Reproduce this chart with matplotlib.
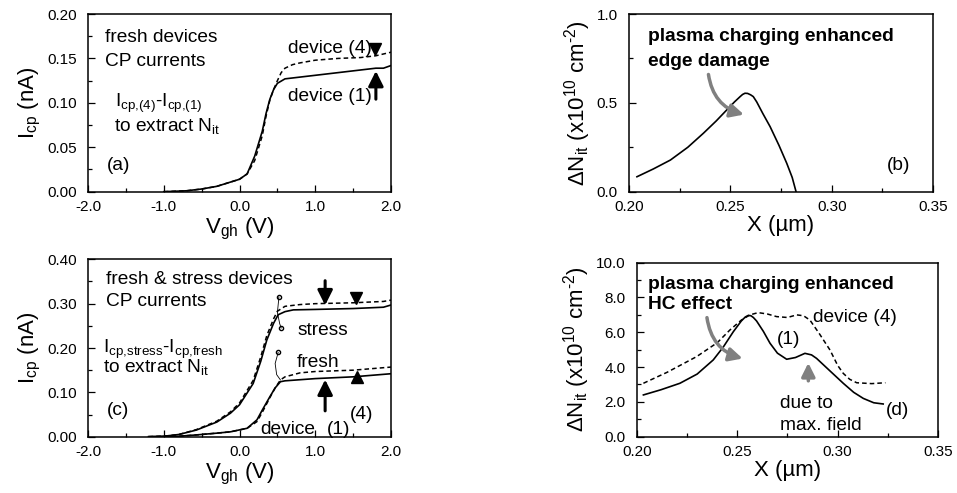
import matplotlib
matplotlib.use("Agg")
import matplotlib.pyplot as plt
from matplotlib.ticker import MultipleLocator, FormatStrFormatter

plt.rcParams['font.family'] = ['Liberation Sans', 'DejaVu Sans']
plt.rcParams['mathtext.fontset'] = 'custom'
plt.rcParams['mathtext.rm'] = 'Liberation Sans'
plt.rcParams['mathtext.it'] = 'Liberation Sans:italic'
plt.rcParams['mathtext.bf'] = 'Liberation Sans:bold'
plt.rcParams['axes.unicode_minus'] = False

# ---- (a) fresh devices CP currents ----
vgh_a1 = [-1.0, -0.7, -0.5, -0.3, 0.0, 0.1, 0.2, 0.3, 0.35, 0.4, 0.45, 0.5, 0.6, 0.8, 1.0, 1.3, 1.6, 1.8, 1.9, 2.0]
icp_a1 = [0.0, 0.001, 0.003, 0.006, 0.014, 0.02, 0.04, 0.068, 0.088, 0.104, 0.115, 0.122, 0.127, 0.129, 0.131, 0.134, 0.137, 0.139, 0.139, 0.142]
vgh_a4 = [-1.0, -0.7, -0.5, -0.3, 0.0, 0.1, 0.2, 0.3, 0.35, 0.4, 0.45, 0.5, 0.55, 0.6, 0.7, 0.8, 1.0, 1.3, 1.6, 1.8, 1.9, 2.0]
icp_a4 = [0.0, 0.001, 0.003, 0.006, 0.014, 0.02, 0.035, 0.063, 0.085, 0.103, 0.115, 0.125, 0.134, 0.139, 0.143, 0.145, 0.148, 0.150, 0.151, 0.153, 0.155, 0.157]

# ---- (c) fresh & stress devices ----
vgh_s1 = [-1.2, -1.0, -0.8, -0.57, -0.3, -0.12, 0.0, 0.18, 0.28, 0.36, 0.45, 0.51, 0.6, 0.71, 1.0, 1.5, 1.9, 2.0]
icp_s1 = [0.0, 0.001, 0.005, 0.015, 0.033, 0.053, 0.072, 0.12, 0.17, 0.218, 0.256, 0.275, 0.282, 0.286, 0.287, 0.289, 0.292, 0.297]
vgh_s4 = [-1.2, -1.0, -0.8, -0.57, -0.3, -0.12, 0.0, 0.18, 0.28, 0.36, 0.45, 0.5, 0.6, 0.8, 1.0, 1.5, 1.9, 2.0]
icp_s4 = [0.0, 0.001, 0.005, 0.016, 0.035, 0.056, 0.076, 0.127, 0.18, 0.228, 0.266, 0.283, 0.294, 0.298, 0.300, 0.302, 0.305, 0.308]
vgh_f1 = [-1.2, -0.8, -0.57, -0.3, -0.12, 0.1, 0.23, 0.3, 0.4, 0.47, 0.54, 0.6, 1.0, 1.5, 2.0]
icp_f1 = [0.0, 0.001, 0.004, 0.008, 0.011, 0.019, 0.038, 0.06, 0.09, 0.11, 0.124, 0.126, 0.131, 0.135, 0.142]
vgh_f4 = [-1.2, -0.8, -0.57, -0.3, -0.12, 0.1, 0.23, 0.3, 0.4, 0.47, 0.54, 0.6, 0.8, 1.0, 1.5, 2.0]
icp_f4 = [0.0, 0.001, 0.004, 0.008, 0.011, 0.019, 0.034, 0.055, 0.088, 0.11, 0.128, 0.135, 0.144, 0.147, 0.150, 0.157]

# ---- (b) delta Nit, fresh ----
x_b = [0.2039, 0.2120, 0.2204, 0.2290, 0.2367, 0.2430, 0.2482, 0.2520, 0.2548, 0.2560, 0.2572,
       0.2585, 0.2600, 0.2613, 0.2630, 0.2660, 0.2696, 0.2740, 0.2778, 0.2805, 0.2824]
dn_b = [0.084, 0.128, 0.178, 0.250, 0.329, 0.398, 0.460, 0.505, 0.535, 0.547, 0.554,
        0.553, 0.545, 0.535, 0.505, 0.44, 0.366, 0.26, 0.16, 0.08, 0.0]

# ---- (d) delta Nit after stress ----
x_d1 = [0.2032, 0.2120, 0.2214, 0.2300, 0.2380, 0.2430, 0.2480, 0.2520, 0.2540, 0.2555, 0.2568, 0.2580, 0.2596, 0.2630, 0.2663, 0.2700, 0.2746, 0.2790, 0.2837, 0.2870, 0.2895, 0.2960, 0.3028, 0.3080, 0.3128, 0.3180, 0.3227]
dn_d1 = [2.40, 2.70, 3.07, 3.60, 4.41, 5.15, 6.03, 6.65, 6.88, 6.97, 6.95, 6.85, 6.65, 6.05, 5.37, 4.80, 4.45, 4.55, 4.79, 4.70, 4.50, 3.80, 3.07, 2.55, 2.20, 1.95, 1.88]
x_d4 = [0.2032, 0.2150, 0.2297, 0.2400, 0.2463, 0.2520, 0.2563, 0.2604, 0.2650, 0.2696, 0.2750, 0.2796, 0.2830, 0.2862, 0.2910, 0.2962, 0.3000, 0.3028, 0.3060, 0.3095, 0.3170, 0.3238]
dn_d4 = [3.07, 3.70, 4.60, 5.40, 6.13, 6.70, 7.00, 7.13, 7.05, 6.90, 6.85, 7.00, 6.95, 6.70, 5.90, 4.98, 4.10, 3.64, 3.30, 3.10, 3.05, 3.10]

fig = plt.figure(figsize=(9.57, 4.93), dpi=100)
ax_a = fig.add_axes([0.092, 0.6112, 0.3166, 0.3604])
ax_c = fig.add_axes([0.092, 0.1142, 0.3166, 0.3598])
ax_b = fig.add_axes([0.6573, 0.6112, 0.3177, 0.3604])
ax_d = fig.add_axes([0.6656, 0.1142, 0.3145, 0.3530])

tick_fs = 11
label_fs = 16
text_fs = 13.8

black_arrow = dict(arrowstyle='-|>,head_width=0.45,head_length=0.9', color='k', lw=2.2)
gray_arrow = dict(arrowstyle='-|>,head_width=0.4,head_length=0.8', color='#808080', lw=2.5)

HYPHEN = '\u2010'
NIT_LABEL = r'$\Delta$N$_{\rm it}$ (x10$^{10}$ cm$^{\rm ' + HYPHEN + r'2}$)'


def style(ax, xmaj, xmin, ymaj, ymin, xfmt, yfmt):
    ax.xaxis.set_major_locator(MultipleLocator(xmaj))
    ax.xaxis.set_minor_locator(MultipleLocator(xmin))
    ax.yaxis.set_major_locator(MultipleLocator(ymaj))
    ax.yaxis.set_minor_locator(MultipleLocator(ymin))
    ax.xaxis.set_major_formatter(FormatStrFormatter(xfmt))
    ax.yaxis.set_major_formatter(FormatStrFormatter(yfmt))
    ax.tick_params(which='both', direction='in', top=False, right=False,
                   labelsize=tick_fs, width=0.9)
    ax.tick_params(which='major', length=5)
    ax.tick_params(which='minor', length=3)
    ax.tick_params(axis='x', which='major', pad=6)
    ax.tick_params(axis='y', which='major', pad=8)
    for s in ax.spines.values():
        s.set_linewidth(1.1)


# (a)
ax_a.plot(vgh_a1, icp_a1, 'k-', lw=1.2)
ax_a.plot(vgh_a4, icp_a4, 'k--', lw=1.1, dashes=(3, 2))
ax_a.set_xlim(-2, 2)
ax_a.set_ylim(0, 0.2)
style(ax_a, 1.0, 0.5, 0.05, 0.025, '%.1f', '%.2f')
ax_a.set_xlabel(r'V$_{\rm gh}$ (V)', fontsize=label_fs, labelpad=1)
ax_a.set_ylabel(r'I$_{\rm cp}$ (nA)', fontsize=label_fs, labelpad=3)
ax_a.text(-1.78, 0.173, 'fresh devices', fontsize=text_fs, va='center')
ax_a.text(-1.78, 0.146, 'CP currents', fontsize=text_fs, va='center')
ax_a.text(-1.64, 0.0995, r'I$_{\rm cp{,}(4)}$-I$_{\rm cp{,}(1)}$', fontsize=text_fs, va='center')
ax_a.text(-1.66, 0.074, r'to extract N$_{\rm it}$', fontsize=text_fs, va='center')
ax_a.text(-1.75, 0.030, '(a)', fontsize=text_fs, va='center')
ax_a.text(0.645, 0.1615, 'device (4)', fontsize=text_fs, va='center')
ax_a.text(0.645, 0.107, 'device (1)', fontsize=text_fs, va='center')
ax_a.plot([1.79], [0.1605], 'kv', ms=8)
ax_a.annotate('', xy=(1.8, 0.139), xytext=(1.8, 0.101), arrowprops=black_arrow)

# (c)
ax_c.plot(vgh_s1, icp_s1, 'k-', lw=1.2)
ax_c.plot(vgh_s4, icp_s4, 'k--', lw=1.1, dashes=(3, 2))
ax_c.plot(vgh_f1, icp_f1, 'k-', lw=1.2)
ax_c.plot(vgh_f4, icp_f4, 'k--', lw=1.1, dashes=(3, 2))
ax_c.set_xlim(-2, 2)
ax_c.set_ylim(0, 0.4)
style(ax_c, 1.0, 0.5, 0.1, 0.05, '%.1f', '%.2f')
ax_c.set_xlabel(r'V$_{\rm gh}$ (V)', fontsize=label_fs, labelpad=1)
ax_c.set_ylabel(r'I$_{\rm cp}$ (nA)', fontsize=label_fs, labelpad=3)
ax_c.text(-1.76, 0.355, 'fresh & stress devices', fontsize=text_fs, va='center')
ax_c.text(-1.76, 0.305, 'CP currents', fontsize=text_fs, va='center')
ax_c.text(-1.80, 0.196, r'I$_{\rm cp{,}stress}$-I$_{\rm cp{,}fresh}$', fontsize=text_fs, va='center')
ax_c.text(-1.80, 0.158, r'to extract N$_{\rm it}$', fontsize=text_fs, va='center')
ax_c.text(-1.75, 0.060, '(c)', fontsize=text_fs, va='center')
ax_c.text(0.76, 0.240, 'stress', fontsize=text_fs, va='center')
ax_c.text(0.76, 0.167, 'fresh', fontsize=text_fs, va='center')
ax_c.text(0.27, 0.017, 'device', fontsize=text_fs, va='center')
ax_c.text(1.15, 0.017, '(1)', fontsize=text_fs, va='center')
ax_c.text(1.46, 0.049, '(4)', fontsize=text_fs, va='center')
# small loop brackets marking the curve pairs
ax_c.plot([0.52, 0.50, 0.53, 0.55], [0.315, 0.28, 0.255, 0.245], 'k-', lw=0.6,
          marker='o', mfc='none', ms=3, markevery=[0, 3])
ax_c.plot([0.51, 0.47, 0.49, 0.54], [0.19, 0.165, 0.14, 0.128], 'k-', lw=0.6,
          marker='o', mfc='none', ms=3, markevery=[0])
ax_c.annotate('', xy=(1.13, 0.29), xytext=(1.13, 0.358), arrowprops=black_arrow)
ax_c.annotate('', xy=(1.13, 0.135), xytext=(1.13, 0.052), arrowprops=black_arrow)
ax_c.plot([1.54], [0.313], 'kv', ms=8)
ax_c.plot([1.55], [0.135], 'k^', ms=8)

# (b)
ax_b.plot(x_b, dn_b, 'k-', lw=1.2)
ax_b.set_xlim(0.2, 0.35)
ax_b.set_ylim(0, 1.0)
style(ax_b, 0.05, 0.025, 0.5, 0.25, '%.2f', '%.1f')
ax_b.set_xlabel('X (\u00b5m)', fontsize=label_fs, labelpad=1)
ax_b.set_ylabel(NIT_LABEL, fontsize=label_fs, labelpad=3)
ax_b.text(0.2096, 0.872, 'plasma charging enhanced', fontsize=text_fs,
          fontweight='bold', va='center')
ax_b.text(0.2096, 0.731, 'edge damage', fontsize=text_fs, fontweight='bold', va='center')
ax_b.text(0.327, 0.15, '(b)', fontsize=text_fs, va='center')
ax_b.annotate('', xy=(0.2580, 0.43), xytext=(0.2390, 0.675),
              arrowprops=dict(gray_arrow, connectionstyle='arc3,rad=0.35'))

# (d)
ax_d.plot(x_d1, dn_d1, 'k-', lw=1.2)
ax_d.plot(x_d4, dn_d4, 'k--', lw=1.1, dashes=(3, 2))
ax_d.set_xlim(0.2, 0.35)
ax_d.set_ylim(0, 10)
style(ax_d, 0.05, 0.025, 2.0, 1.0, '%.2f', '%.1f')
ax_d.set_xlabel('X (\u00b5m)', fontsize=label_fs, labelpad=1)
ax_d.set_ylabel(NIT_LABEL, fontsize=label_fs, labelpad=3)
ax_d.text(0.2056, 8.72, 'plasma charging enhanced', fontsize=text_fs,
          fontweight='bold', va='center')
ax_d.text(0.2056, 7.57, 'HC effect', fontsize=text_fs, fontweight='bold', va='center')
ax_d.text(0.2879, 6.86, 'device (4)', fontsize=text_fs, va='center')
ax_d.text(0.2696, 5.56, '(1)', fontsize=text_fs, va='center')
ax_d.text(0.2712, 1.92, 'due to', fontsize=text_fs, va='center')
ax_d.text(0.2712, 0.67, 'max. field', fontsize=text_fs, va='center')
ax_d.text(0.3240, 1.53, '(d)', fontsize=text_fs, va='center')
ax_d.annotate('', xy=(0.2540, 4.45), xytext=(0.2347, 7.0),
              arrowprops=dict(gray_arrow, connectionstyle='arc3,rad=0.35'))
ax_d.annotate('', xy=(0.2854, 4.40), xytext=(0.2854, 3.05), arrowprops=gray_arrow)

fig.savefig('out.png', dpi=100)
